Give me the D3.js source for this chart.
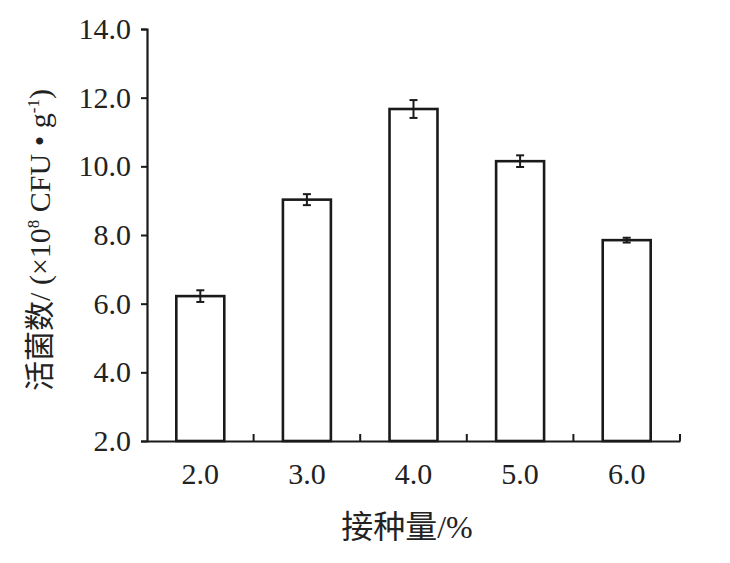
<!DOCTYPE html>
<html>
<head>
<meta charset="utf-8">
<script src="https://cdn.jsdelivr.net/npm/d3@7"></script>
<style>
  body { margin: 0; background: #fff; }
  svg text { font-family: "Liberation Serif", "Noto Sans CJK SC", serif; fill: #222; }
</style>
</head>
<body>
<svg id="chart" width="730" height="563"></svg>
<script>
// data
var doses = ["2.0", "3.0", "4.0", "5.0", "6.0"];
var counts = [6.22, 9.03, 11.67, 10.15, 7.85];
var errs = [0.17, 0.16, 0.26, 0.17, 0.07];
var yTicks = [2, 4, 6, 8, 10, 12, 14];

var svg = d3.select("#chart");
var margin = {top: 29, right: 50, bottom: 122, left: 147};
var W = 730, H = 563;

//scales
var x = d3.scaleBand()
    .domain(doses)
    .range([margin.left, W - margin.right])
    .paddingInner(0.55)
    .paddingOuter(0.275);

var y = d3.scaleLinear()
    .domain([2, 14])
    .range([H - margin.bottom, margin.top]);

var ink = "#1a1a1a";

//bars
svg.selectAll("rect.bar")
    .data(counts)
    .enter().append("rect")
    .attr("class", "bar")
    .attr("x", function(d, i) { return x(doses[i]); })
    .attr("y", function(d) { return y(d); })
    .attr("width", x.bandwidth())
    .attr("height", function(d) { return y(2) - y(d); })
    .attr("fill", "#fff")
    .attr("stroke", ink)
    .attr("stroke-width", 2.6);

//error bars
var eb = svg.selectAll("g.err")
    .data(counts)
    .enter().append("g")
    .attr("class", "err")
    .attr("stroke", ink)
    .attr("stroke-width", 2);

eb.append("line")
    .attr("x1", function(d, i) { return x(doses[i]) + x.bandwidth() / 2; })
    .attr("x2", function(d, i) { return x(doses[i]) + x.bandwidth() / 2; })
    .attr("y1", function(d, i) { return y(d + errs[i]); })
    .attr("y2", function(d, i) { return y(d - errs[i]); });

[1, -1].forEach(function(s) {
  eb.append("line")
    .attr("x1", function(d, i) { return x(doses[i]) + x.bandwidth() / 2 - 4; })
    .attr("x2", function(d, i) { return x(doses[i]) + x.bandwidth() / 2 + 4; })
    .attr("y1", function(d, i) { return y(d + s * errs[i]); })
    .attr("y2", function(d, i) { return y(d + s * errs[i]); });
});

//y axis
var yAxis = d3.axisLeft(y)
    .tickValues(yTicks)
    .tickFormat(d3.format(".1f"))
    .tickSize(6)
    .tickPadding(10);

var gy = svg.append("g")
    .attr("transform", "translate(" + margin.left + ",0)")
    .call(yAxis);
gy.select(".domain").attr("stroke", ink).attr("stroke-width", 2.2);
gy.selectAll(".tick line").attr("stroke", ink).attr("stroke-width", 2);
gy.selectAll(".tick text").attr("font-size", 30).attr("fill", "#222");

//x axis: ticks sit on the band boundaries and point up
var xAxis = d3.axisBottom(x)
    .tickSize(0)
    .tickPadding(22);

var gx = svg.append("g")
    .attr("transform", "translate(0," + y(2) + ")")
    .call(xAxis);
gx.select(".domain").attr("stroke", ink).attr("stroke-width", 2.2);
gx.selectAll(".tick text").attr("font-size", 30).attr("fill", "#222");

svg.selectAll("line.xtick")
    .data(doses)
    .enter().append("line")
    .attr("class", "xtick")
    .attr("x1", function(d) { return x(d) - x.step() * 0.275 + x.step(); })
    .attr("x2", function(d) { return x(d) - x.step() * 0.275 + x.step(); })
    .attr("y1", y(2))
    .attr("y2", y(2) - 7)
    .attr("stroke", ink)
    .attr("stroke-width", 2);

//axis titles
svg.append("text")
    .attr("x", 407)
    .attr("y", 538)
    .attr("text-anchor", "middle")
    .attr("font-size", 32)
    .attr("fill", "#333")
    .text("接种量/%");

var yt = svg.append("text")
    .attr("transform", "translate(50," + 240 + ") rotate(-90)")
    .attr("text-anchor", "middle")
    .attr("font-size", 30)
    .attr("fill", "#333");
yt.append("tspan").text("活菌数/ (×10");
yt.append("tspan").attr("font-size", 17).attr("dy", -11).text("8");
yt.append("tspan").attr("dy", 11).text(" CFU • g");
yt.append("tspan").attr("font-size", 17).attr("dy", -11).text("-1");
yt.append("tspan").attr("dy", 11).text(")");
</script>
</body>
</html>
